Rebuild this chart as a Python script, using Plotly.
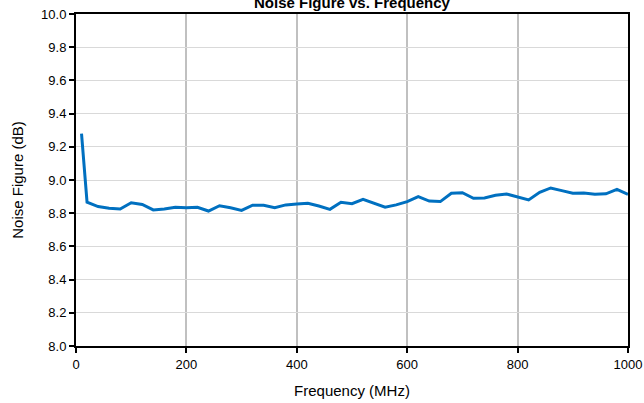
import plotly.graph_objects as go

# Measured noise figure across frequency
freq_mhz = [10, 20, 40, 60, 80, 100, 120, 140, 160, 180, 200, 220, 240, 260, 280,
            300, 320, 340, 360, 380, 400, 420, 440, 460, 480, 500, 520, 540, 560,
            580, 600, 620, 640, 660, 680, 700, 720, 740, 760, 780, 800, 820, 840,
            860, 880, 900, 920, 940, 960, 980, 1000]
noise_figure_db = [9.28, 8.866, 8.84, 8.83, 8.825, 8.863, 8.853, 8.82, 8.825, 8.836,
                   8.833, 8.836, 8.813, 8.845, 8.833, 8.817, 8.848, 8.848, 8.833,
                   8.85, 8.856, 8.86, 8.843, 8.823, 8.866, 8.857, 8.884, 8.86, 8.836,
                   8.85, 8.87, 8.9, 8.873, 8.87, 8.92, 8.923, 8.89, 8.892, 8.908,
                   8.916, 8.896, 8.88, 8.926, 8.952, 8.936, 8.92, 8.922, 8.914,
                   8.917, 8.944, 8.914]

x_ticks = [0, 200, 400, 600, 800, 1000]
y_ticks = [8.0, 8.2, 8.4, 8.6, 8.8, 9.0, 9.2, 9.4, 9.6, 9.8, 10.0]

FONT = "Liberation Sans, Arial, sans-serif"

fig = go.Figure()
fig.add_trace(go.Scatter(
    x=freq_mhz, y=noise_figure_db, mode="lines",
    line=dict(color="#0070C0", width=3),
    showlegend=False,
))

fig.update_layout(
    width=644, height=403,
    margin=dict(l=76, r=16, t=14, b=57),
    paper_bgcolor="white", plot_bgcolor="white",
    font=dict(family=FONT, size=13, color="black"),
)

fig.add_annotation(
    text="<b>Noise Figure vs. Frequency</b>",
    x=0.5, y=1, xref="paper", yref="paper",
    xanchor="center", yanchor="bottom", yshift=1,
    showarrow=False, font=dict(family=FONT, size=15, color="black"),
)

fig.update_xaxes(
    range=[0, 1000], tickvals=x_ticks, ticktext=[str(v) for v in x_ticks],
    automargin=False,
    showgrid=True, gridcolor="#c0c0c0", gridwidth=2,
    showline=True, linecolor="black", linewidth=2, mirror=True,
    ticks="outside", ticklen=5, tickwidth=2, tickcolor="black",
    zeroline=False,
    title=dict(text="Frequency (MHz)", font=dict(family=FONT, size=15), standoff=15),
)
fig.update_yaxes(
    range=[8.0, 10.0], tickvals=y_ticks, ticktext=[f"{v:.1f}" for v in y_ticks],
    automargin=False,
    showgrid=True, gridcolor="#d9d9d9", gridwidth=1,
    showline=True, linecolor="black", linewidth=2, mirror=True,
    ticks="outside", ticklen=5, tickwidth=2, tickcolor="black",
    zeroline=False,
    title=dict(text="Noise Figure (dB)", font=dict(family=FONT, size=15), standoff=14),
)

fig.write_html("out.html")
